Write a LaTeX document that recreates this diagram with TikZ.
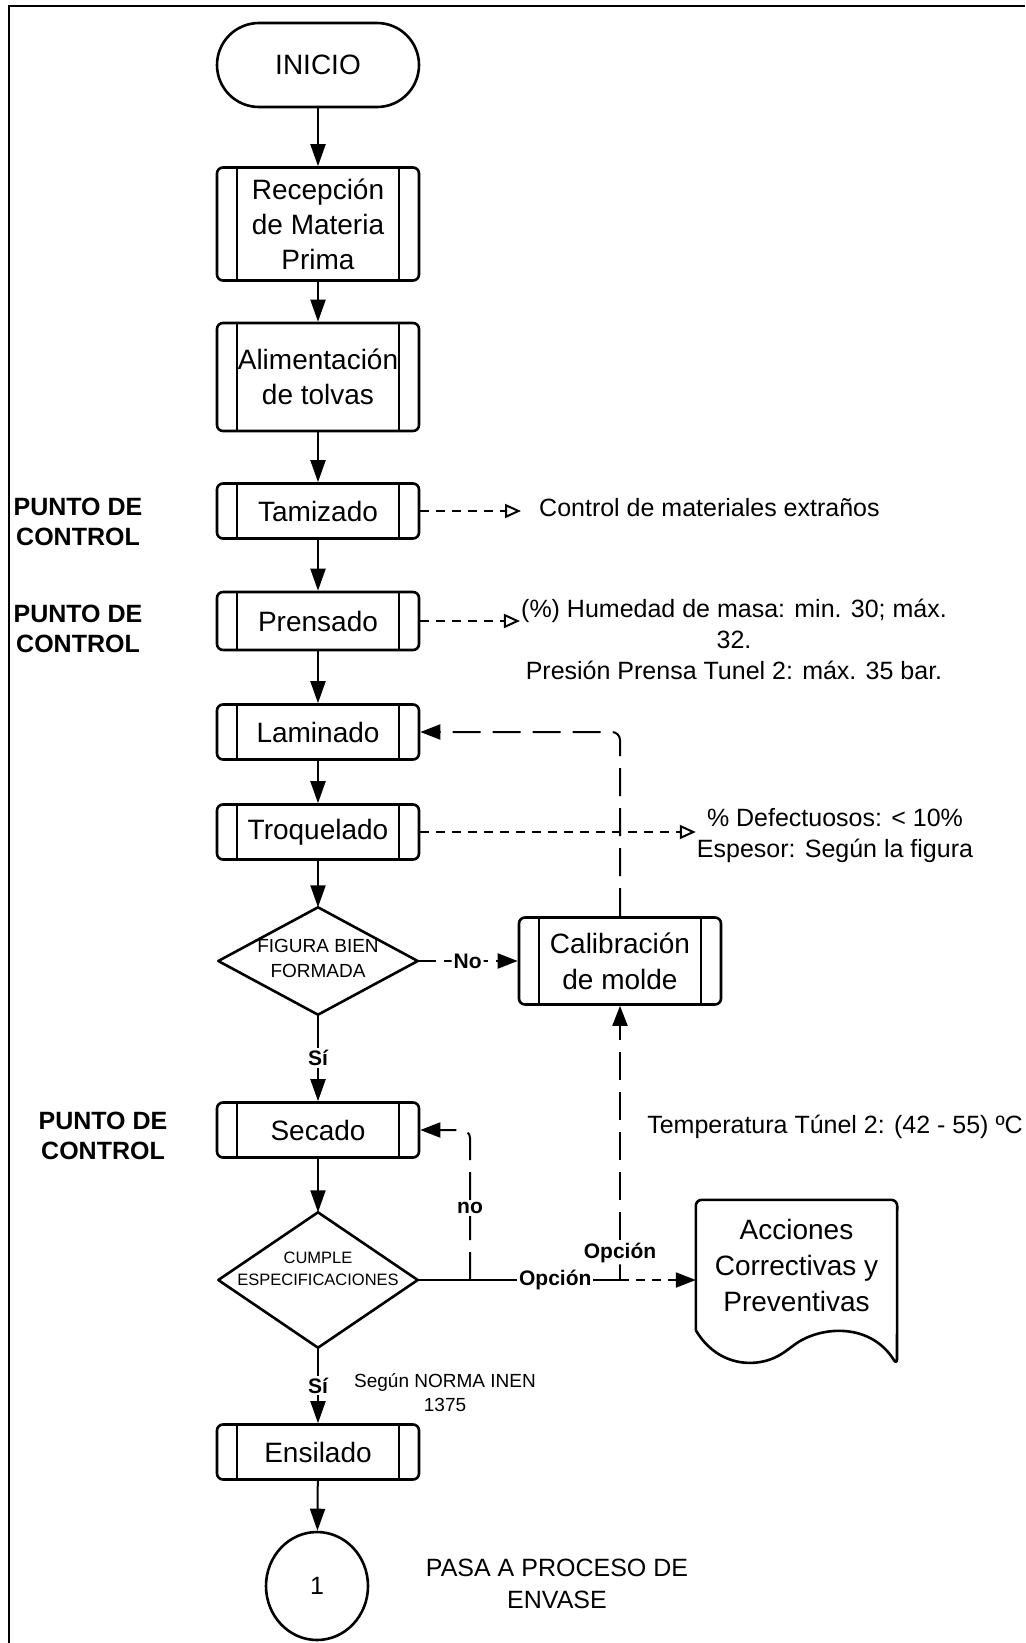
\documentclass[tikz,border=0pt]{standalone}
\usepackage{fontspec}
\setmainfont{Liberation Sans}
\usetikzlibrary{arrows.meta,shapes.geometric}

\begin{document}
\begin{tikzpicture}[x=1pt,y=-1pt,
  every node/.style={font=\fontsize{25}{32}\selectfont},
  inicio/.style={rectangle, rounded corners=42pt, draw, line width=2.6pt,
                 minimum width=202pt, minimum height=84pt, font=\fontsize{28}{35}\selectfont},
  proc/.style={rectangle, rounded corners=6pt, draw, line width=2.6pt,
               minimum width=202pt, align=center, inner sep=2pt, font=\fontsize{28}{35}\selectfont,
               path picture={\draw[line width=2.4pt]
                 ([xshift=20pt]path picture bounding box.north west) -- ([xshift=20pt]path picture bounding box.south west)
                 ([xshift=-20pt]path picture bounding box.north east) -- ([xshift=-20pt]path picture bounding box.south east);}},
  dec/.style={minimum width=199pt, minimum height=107pt, inner sep=0pt},
  dectxt/.style={font=\fontsize{19}{25}\selectfont, align=center, inner sep=0pt},
  decline/.style={line width=2.6pt, line join=round},
  link/.style={line width=2pt, -{Triangle[length=22pt,width=15pt]}},
  fb/.style={line width=2pt, dash pattern=on 28pt off 12pt, rounded corners=8pt,
             -{Triangle[length=20pt,width=15pt]}},
  info/.style={line width=2pt, dash pattern=on 9pt off 7pt,
               -{Triangle[open,length=16pt,width=14pt]}},
  lbl/.style={font=\fontsize{21}{25}\selectfont\bfseries, fill=white, inner sep=2pt},
  ctrl/.style={font=\fontsize{25}{30}\selectfont\bfseries, align=center},
  nota/.style={align=center, inner sep=1pt}]

\useasboundingbox (0,0) rectangle (1025,1643);
\draw[line width=2pt] (9,1643) -- (9,6) -- (1025,6);

% main column
\node[inicio] (ini) at (318,65) {INICIO};
\node[proc, minimum height=113pt] (rec) at (318,224) {Recepción\\de Materia\\Prima};
\node[proc, minimum height=108pt] (ali) at (318,377) {Alimentación\\de tolvas};
\node[proc, minimum height=55pt] (tam) at (318,511) {Tamizado};
\node[proc, minimum height=58pt] (pre) at (318,621) {Prensado};
\node[proc, minimum height=55pt] (lam) at (318,732) {Laminado};
\node[proc, minimum height=55pt] (tro) at (318,832) {Troquelado};
\node[dec] (fig) at (318,961) {};
\node[dectxt] (figtxt) at (318,958) {FIGURA BIEN\\FORMADA};
\node[proc, minimum height=87pt] (cal) at (620,961) {Calibración\\[1pt]de molde};
\node[proc, minimum height=55pt] (sec) at (318,1130) {Secado};
\node[dec, minimum height=135pt] (cum) at (318,1280) {};
\node[dectxt, font=\fontsize{16.5}{22}\selectfont] (cumtxt) at (318,1269) {CUMPLE\\ESPECIFICACIONES};
\node[proc, minimum height=55pt] (ens) at (318,1452) {Ensilado};
\node[ellipse, draw, line width=2.6pt, minimum width=102pt, minimum height=108pt] (fin) at (317,1586) {1};
\node[minimum width=201pt, minimum height=130pt, align=center, inner sep=0pt,
      font=\fontsize{28}{36}\selectfont] (acc) at (796.5,1265) {Acciones\\Correctivas y\\Preventivas};

\draw[decline] (fig.west) -- (fig.north) -- (fig.east) -- (fig.south) -- cycle;
\draw[decline] (cum.west) -- (cum.north) -- (cum.east) -- (cum.south) -- cycle;
\draw[decline, rounded corners=6pt] (acc.south west) -- (acc.north west) -- (acc.north east) -- (897,1365)
  .. controls (870,1322) and (820,1326) .. (790,1348) .. controls (760,1370) and (718,1368) .. (acc.south west);

% side texts
\node[ctrl] (pc1) at (78,522) {PUNTO DE\\CONTROL};
\node[ctrl] (pc2) at (78,629) {PUNTO DE\\CONTROL};
\node[ctrl] (pc3) at (103,1136) {PUNTO DE\\CONTROL};
\node[nota, anchor=west, inner xsep=18pt] (ctl) at (521,508) {Control de materiales extraños};
\node[nota, font=\fontsize{25}{31}\selectfont] (hum) at (734,639) {(\%) Humedad de masa: min. 30; máx.\\32.\\Presión Prensa Tunel 2: máx. 35 bar.};
\node[nota, font=\fontsize{25}{31}\selectfont] (def) at (835,836) {\% Defectuosos: < 10\%\\Espesor: Según la figura};
\node[nota] (tem) at (835,1127) {Temperatura Túnel 2: (42 - 55) ºC};
\node[nota, font=\fontsize{19}{24}\selectfont] (nor) at (445,1393) {Según NORMA INEN\\1375};
\node[nota] (pas) at (557,1584) {PASA A PROCESO DE\\ENVASE};

\coordinate (nob) at (470,1280);
\coordinate (jn) at (620,1280);

% connectors
\draw[link] (ini) -- (rec);
\draw[link] (rec) -- (ali);
\draw[link] (ali) -- (tam);
\draw[link] (tam) -- (pre);
\draw[link] (pre) -- (lam);
\draw[link] (lam) -- (tro);
\draw[link] (tro) -- (fig.north);
\draw[link] (fig.south) -- node[lbl]{Sí} (sec);
\draw[link] (sec) -- (cum.north);
\draw[link] (cum.south) -- node[lbl]{Sí} (ens);
\draw[link] (ens) -- (fin);

\draw[fb, dash pattern=on 18pt off 8pt] (fig.east) -- node[lbl]{No} (cal);
\draw[fb] (cal.north) |- (lam.east);
\draw[line width=2pt] (cum.east) -- node[lbl, pos=0.68]{Opción} (jn);
\draw[fb] (nob) |- node[lbl, pos=0.24]{no} (sec.east);
\draw[fb] (jn) -- node[lbl, pos=0.1]{Opción} (cal.south);
\draw[info, -{Triangle[length=20pt,width=15pt]}] (jn) -- (jn -| acc.west);

\draw[info] (tam.east) -- (tam.east -| ctl.west);
\draw[info] (pre.east) -- (pre.east -| hum.west);
\draw[info] (tro.east) -- (tro.east -| def.west);
\end{tikzpicture}
\end{document}
